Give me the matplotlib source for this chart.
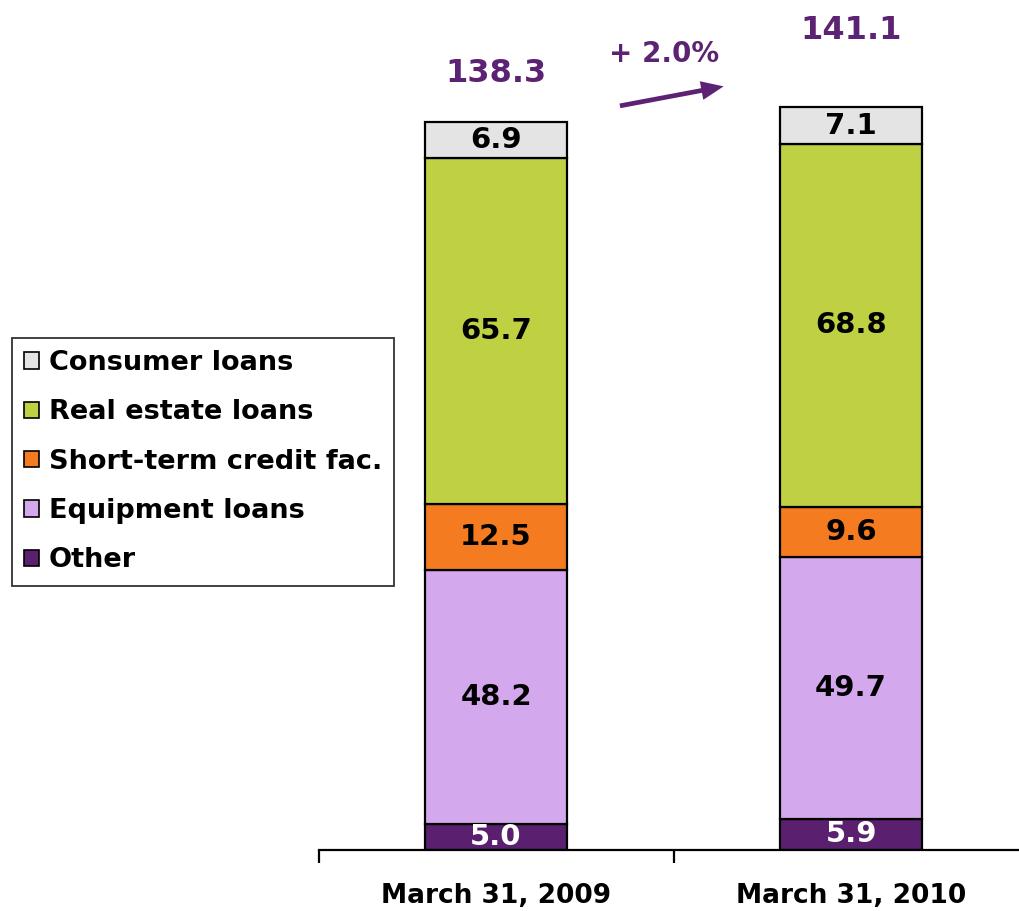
import matplotlib
matplotlib.use("Agg")
import matplotlib.pyplot as plt
from matplotlib.patches import Patch, FancyArrowPatch

categories = ["March 31, 2009", "March 31, 2010"]
series_names = ["Other", "Equipment loans", "Short-term credit fac.", "Real estate loans", "Consumer loans"]
other = [5.0, 5.9]
equipment = [48.2, 49.7]
short_term = [12.5, 9.6]
real_estate = [65.7, 68.8]
consumer = [6.9, 7.1]
totals = [138.3, 141.1]
change_label = "+ 2.0%"

series_values = [other, equipment, short_term, real_estate, consumer]
colors = ["#5A1F6E", "#D4A8EC", "#F47B20", "#BFD142", "#E3E4E3"]
label_colors = ["white", "black", "black", "black", "black"]
purple = "#5C2374"

cond = ["DejaVu Sans Condensed", "DejaVu Sans"]

fig = plt.figure(figsize=(10.19, 9.11), dpi=100)
ax = fig.add_axes([318.5 / 1019, 1 - 850 / 911, 1 - 318.5 / 1019, 850 / 911])

x = list(range(len(categories)))
bottoms = [0.0] * len(categories)
handles = []
for name, vals, col, lc in zip(series_names, series_values, colors, label_colors):
    ax.bar(x, vals, width=0.40, bottom=bottoms, color=col,
           edgecolor="black", linewidth=1.6, zorder=2)
    for xi, v, b in zip(x, vals, bottoms):
        ax.text(xi, b + v / 2, f"{v:.1f}", ha="center", va="center",
                fontsize=21, fontweight="bold", color=lc, family=cond, zorder=3)
    bottoms = [b + v for b, v in zip(bottoms, vals)]
    handles.append(Patch(facecolor=col, edgecolor="black", linewidth=1.2, label=name))

# axes styling
for s in ["top", "right", "left"]:
    ax.spines[s].set_visible(False)
ax.spines["bottom"].set_linewidth(1.6)
ax.set_yticks([])
ax.set_xticks(x)
ax.set_xticklabels(categories, fontsize=19, fontweight="bold", family=cond)
ax.tick_params(axis="x", which="major", length=0, pad=24)
ax.set_xticks([-0.5, 0.5, 1.5], minor=True)
ax.tick_params(axis="x", which="minor", length=9, width=1.6, direction="out")

ax.set_xlim(-0.5, 1.473)
ax.set_ylim(0, 161.4)

# totals
tot_offsets = [9.2, 14.5]
for xi, t, off in zip(x, totals, tot_offsets):
    ax.text(xi, t + off, f"{t:.1f}", ha="center", va="center", fontsize=23,
            fontweight="bold", color=purple, family=cond)

# change arrow
ax.text(0.472, (850 - 54) / 5.265, change_label, ha="center", va="center",
        fontsize=20, fontweight="bold", color=purple, family=cond)
arrow = FancyArrowPatch((0.349, 141.3), (0.641, 145.0),
                        arrowstyle="simple,tail_width=0.2,head_width=0.8,head_length=0.95",
                        mutation_scale=17, color=purple, linewidth=0, shrinkA=0, shrinkB=0)
ax.add_patch(arrow)

leg = fig.legend(handles=handles[::-1], loc="upper left",
                 bbox_to_anchor=(12 / 1019, 1 - 338 / 911),
                 prop={"family": "DejaVu Sans", "weight": "bold", "size": 19.5},
                 frameon=True, fancybox=False, edgecolor="black",
                 handlelength=0.55, handleheight=0.55, handletextpad=0.35,
                 labelspacing=0.86, borderpad=0.45, borderaxespad=0)
leg.get_frame().set_linewidth(1.3)

fig.savefig("out.png", dpi=100)
